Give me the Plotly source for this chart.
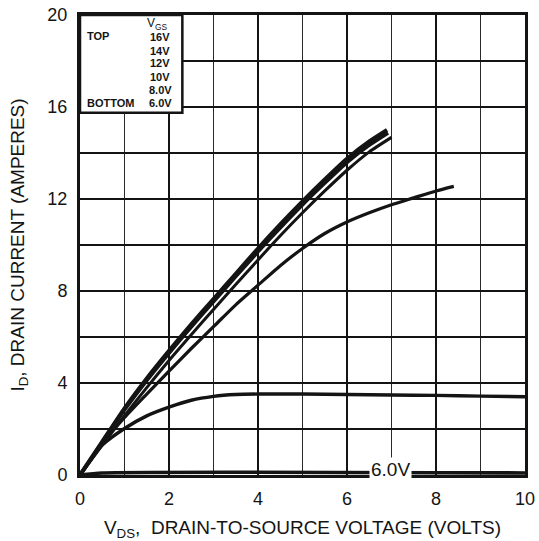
import plotly.graph_objects as go

# ---- data ----
vds_16 = [0, 0.5, 1, 1.5, 2, 2.5, 3, 3.5, 4, 4.5, 5, 5.5, 6, 6.5, 6.9]
id_16 = [0, 1.45, 2.9, 4.2, 5.4, 6.55, 7.65, 8.75, 9.85, 10.9, 11.9, 12.85, 13.75, 14.5, 15.0]

vds_14 = [0, 0.5, 1, 1.5, 2, 2.5, 3, 3.5, 4, 4.5, 5, 5.5, 6, 6.5, 6.92]
id_14 = [0, 1.42, 2.84, 4.12, 5.31, 6.45, 7.55, 8.64, 9.72, 10.76, 11.76, 12.7, 13.6, 14.35, 14.88]

vds_12 = [0, 0.5, 1, 1.5, 2, 2.5, 3, 3.5, 4, 4.5, 5, 5.5, 6, 6.5, 7.0]
id_12 = [0, 1.3, 2.58, 3.8, 4.98, 6.1, 7.2, 8.28, 9.35, 10.4, 11.4, 12.35, 13.25, 14.05, 14.68]

vds_10 = [0, 0.5, 1, 1.5, 2, 2.5, 3, 3.5, 4, 4.5, 5, 5.5, 6, 6.5, 7, 7.5, 8, 8.4]
id_10 = [0, 1.35, 2.5, 3.52, 4.52, 5.5, 6.45, 7.4, 8.25, 9.1, 9.85, 10.5, 11.0, 11.4, 11.75, 12.05, 12.35, 12.55]

vds_8 = [0, 0.25, 0.5, 1, 1.5, 2, 2.5, 3, 3.5, 4, 5, 6, 7, 8, 9, 10]
id_8 = [0, 0.7, 1.3, 2.02, 2.57, 2.95, 3.25, 3.42, 3.5, 3.52, 3.52, 3.5, 3.48, 3.46, 3.43, 3.4]

vds_6 = [0, 0.5, 10]
id_6 = [0, 0.09, 0.09]

x_ticks = [0, 2, 4, 6, 8, 10]
y_ticks = [0, 4, 8, 12, 16, 20]
vgs_labels = ["16V", "14V", "12V", "10V", "8.0V", "6.0V"]

FONT = "Liberation Sans, Arial, sans-serif"
INK = "#141414"

fig = go.Figure()
series = [
    (vds_16, id_16, 4.0),
    (vds_14, id_14, 4.0),
    (vds_12, id_12, 3.0),
    (vds_10, id_10, 3.2),
    (vds_8, id_8, 3.4),
    (vds_6, id_6, 3.6),
]
for xs, ys, w in series:
    fig.add_trace(go.Scatter(x=xs, y=ys, mode="lines",
                             line=dict(color=INK, width=w, shape="spline", smoothing=0.6),
                             hoverinfo="skip", showlegend=False))

# legend box (top-left)
fig.add_shape(type="rect", xref="x", yref="y", x0=0, x1=2.3, y0=15.75, y1=20,
              fillcolor="white", line=dict(color=INK, width=2.5), layer="above")

ann = []
ann.append(dict(x=1.75, y=19.62, text="V<sub>GS</sub>", showarrow=False,
                font=dict(size=12, color=INK, family=FONT), xanchor="center", yanchor="middle"))
label_y = [19.03, 18.45, 17.9, 17.29, 16.74, 16.19]
for lab, yy in zip(vgs_labels, label_y):
    ann.append(dict(x=1.8, y=yy, text="<b>" + lab + "</b>", showarrow=False,
                    font=dict(size=11, color=INK, family=FONT), xanchor="center", yanchor="middle"))
ann.append(dict(x=0.12, y=19.1, text="<b>TOP</b>", showarrow=False,
                font=dict(size=11, color=INK, family=FONT), xanchor="left", yanchor="middle"))
ann.append(dict(x=0.12, y=16.19, text="<b>BOTTOM</b>", showarrow=False,
                font=dict(size=11, color=INK, family=FONT), xanchor="left", yanchor="middle"))
# 6.0V curve label
ann.append(dict(x=6.97, y=0.26, text="6.0V", showarrow=False, bgcolor="white",
                borderpad=1, font=dict(size=19, color=INK, family=FONT),
                xanchor="center", yanchor="middle"))

fig.update_layout(
    width=539, height=541,
    margin=dict(l=80, r=14, t=15, b=66, autoexpand=False),
    paper_bgcolor="white", plot_bgcolor="white",
    annotations=ann,
    font=dict(family=FONT, color=INK),
    xaxis=dict(range=[0, 10], tickvals=x_ticks, ticktext=[str(v) for v in x_ticks],
               automargin=False, ticklabeloverflow="allow",
               showgrid=True, gridcolor=INK, gridwidth=2.2,
               minor=dict(dtick=1, tick0=0, showgrid=True, gridcolor="#2a2a2a", gridwidth=1.3),
               showline=True, mirror=True, linecolor=INK, linewidth=3,
               ticks="", ticklabelstandoff=5, zeroline=False,
               tickfont=dict(size=18, color=INK, family=FONT),
               title=dict(text="V<sub>DS</sub>,  DRAIN-TO-SOURCE VOLTAGE (VOLTS)",
                          font=dict(size=19, color=INK, family=FONT), standoff=18)),
    yaxis=dict(range=[0, 20], tickvals=y_ticks, ticktext=[str(v) for v in y_ticks],
               automargin=False, ticklabeloverflow="allow",
               showgrid=True, gridcolor=INK, gridwidth=1.7,
               minor=dict(dtick=2, tick0=0, showgrid=True, gridcolor=INK, gridwidth=1.7),
               showline=True, mirror=True, linecolor=INK, linewidth=3,
               ticks="", ticklabelstandoff=6, zeroline=False,
               tickfont=dict(size=18, color=INK, family=FONT),
               title=dict(text="I<sub>D</sub>, DRAIN CURRENT (AMPERES)",
                          font=dict(size=19, color=INK, family=FONT), standoff=18)),
)

fig.write_html("out.html", config={"displayModeBar": False},
               post_script="document.body.style.margin='0';document.body.style.overflow='hidden';")
